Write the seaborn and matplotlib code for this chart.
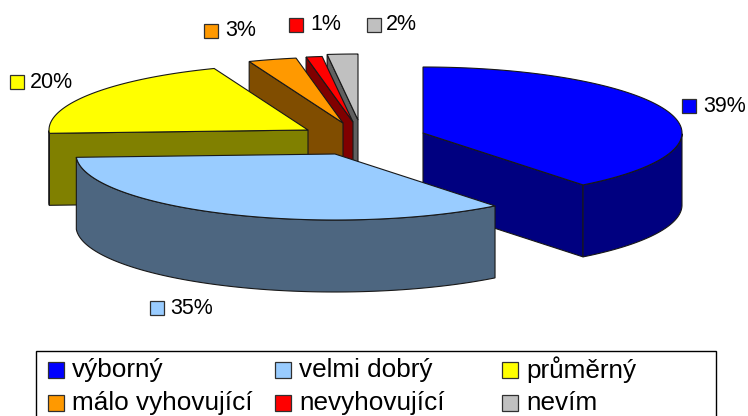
import numpy as np
import matplotlib
matplotlib.use("Agg")
import matplotlib.pyplot as plt
from matplotlib.patches import Rectangle
import seaborn as sns

# data
categories = ["výborný", "velmi dobrý", "průměrný", "málo vyhovující", "nevyhovující", "nevím"]
shares = [39.4, 34.8, 19.9, 3.0, 1.0, 1.9]
tick_labels = ["39%", "35%", "20%", "3%", "1%", "2%"]

colors = ["#0000ff", "#99ccff", "#ffff00", "#ff9900", "#ff0000", "#c0c0c0"]
dark = ["#000080", "#4d6680", "#808000", "#804d00", "#800000", "#606060"]

# pixel layout, exploded centre of every slice
centre_x = [423, 335, 308, 343, 353, 358]
centre_y = [133, 154, 130, 123, 122, 120]
rx, ry, depth = 259, 66, 72
draw_order = [5, 4, 3, 2, 0, 1]

# key box left, top, text left, text middle
label_pos = [(682, 99, 703, 106), (150, 301, 170, 308), (10, 75, 30, 82),
             (204, 24, 225, 31), (289, 18, 310, 25), (367, 18, 386, 24)]

sns.set_theme(style="white")
plt.rcParams["font.family"] = ["Liberation Sans", "DejaVu Sans"]

fig = plt.figure(figsize=(7.48, 4.16), dpi=100)
ax = fig.add_axes([0, 0, 1, 1])
ax.set_xlim(0, 748)
ax.set_ylim(416, 0)
ax.axis("off")

edges = np.cumsum([0] + shares) / sum(shares) * 2 * np.pi

for i in draw_order:
    cx, cy = centre_x[i], centre_y[i]
    t = np.linspace(edges[i], edges[i + 1], 120)
    x = cx + rx * np.sin(t)
    y = cy - ry * np.cos(t)
    z = 5 + draw_order.index(i)
    line = dict(edgecolor="#181818", linewidth=0.8, zorder=z)
    # cut faces, only the ones turned to the viewer
    if np.sin(t[0]) < 0:
        ax.fill([cx, x[0], x[0], cx], [cy, y[0], y[0] + depth, cy + depth], facecolor=dark[i], **line)
    if np.sin(t[-1]) > 0:
        ax.fill([cx, x[-1], x[-1], cx], [cy, y[-1], y[-1] + depth, cy + depth], facecolor=dark[i], **line)
    # outer rim, front half of the ellipse only
    front = np.cos(t) <= 0
    if front.any():
        fx, fy = x[front], y[front]
        ax.fill(np.r_[fx, fx[::-1]], np.r_[fy, fy[::-1] + depth], facecolor=dark[i], **line)
    # top
    ax.fill(np.r_[cx, x], np.r_[cy, y], facecolor=colors[i], **line)

for i, (kx, ky, tx, ty) in enumerate(label_pos):
    ax.add_patch(Rectangle((kx, ky), 14, 14, facecolor=colors[i], edgecolor="#303030", linewidth=0.9, zorder=20))
    ax.text(tx, ty, tick_labels[i], fontsize=15.5, color="black", va="center", ha="left", zorder=20)

# legend box, its bottom edge runs off the picture
ax.add_patch(Rectangle((36, 351), 680, 90, facecolor="white", edgecolor="black", linewidth=1.0, zorder=20))
leg_x = [48, 275, 502]
leg_y = [370, 403]
for i, name in enumerate(categories):
    kx = leg_x[i % 3]
    ky = leg_y[i // 3]
    ax.add_patch(Rectangle((kx, ky - 8), 16, 16, facecolor=colors[i], edgecolor="#303030", linewidth=0.9, zorder=21))
    ax.text(kx + 24, ky, name, fontsize=18.8, color="black", va="center", ha="left", zorder=21)

fig.savefig("out.png", dpi=100)
